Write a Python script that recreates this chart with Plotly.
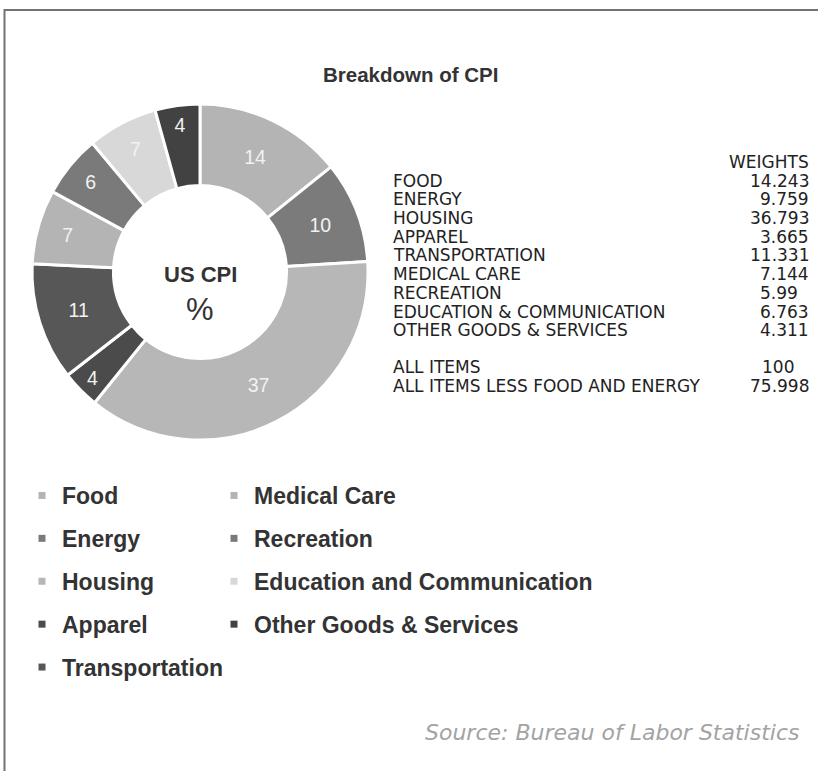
import plotly.graph_objects as go

W, H = 818, 771

# ---- data ----
categories = ["Food", "Energy", "Housing", "Apparel", "Transportation",
              "Medical Care", "Recreation", "Education and Communication",
              "Other Goods & Services"]
weights = [14.243, 9.759, 36.793, 3.665, 11.331, 7.144, 5.99, 6.763, 4.311]
colors = ["#b4b4b4", "#7b7b7b", "#b7b7b7", "#4b4b4b", "#575757",
          "#b4b4b4", "#7a7a7a", "#d8d8d8", "#424242"]

table_labels = ["FOOD", "ENERGY", "HOUSING", "APPAREL", "TRANSPORTATION",
                "MEDICAL CARE", "RECREATION", "EDUCATION & COMMUNICATION",
                "OTHER GOODS & SERVICES"]
summary_labels = ["ALL ITEMS", "ALL ITEMS LESS FOOD AND ENERGY"]
summary_values = [100, 75.998]

legend_col1 = categories[:5]
legend_col2 = categories[5:]


def px(x):
    return x / W


def py(y):
    return 1 - y / H


fig = go.Figure()

# donut
cx, cy, r = 200, 272, 168
fig.add_trace(go.Pie(
    labels=categories, values=weights, sort=False, direction="clockwise",
    rotation=0, hole=0.515,
    marker=dict(colors=colors, line=dict(color="white", width=3)),
    texttemplate="%{value:.0f}", textposition="inside",
    insidetextorientation="horizontal",
    textfont=dict(family="Liberation Sans, Arial", size=19.5, color="#f2f2f2"),
    domain=dict(x=[px(cx - r), px(cx + r)], y=[py(cy + r), py(cy - r)]),
    showlegend=False, hoverinfo="label+value",
))

# legend entries (two columns)
for name, col in zip(categories, colors):
    fig.add_trace(go.Scatter(
        x=[None], y=[None], mode="markers", name=name,
        marker=dict(symbol="square", size=7, color=col),
        legendgroup=name,
        legend="legend" if name in legend_col1 else "legend2",
    ))

legend_font = dict(family="Liberation Sans, Arial", size=23, color="#333333",
                   weight="bold")
fig.update_layout(
    legend=dict(x=px(22), y=py(474), xanchor="left", yanchor="top",
                font=legend_font, tracegroupgap=10, bgcolor="rgba(0,0,0,0)",
                itemwidth=30),
    legend2=dict(x=px(214), y=py(474), xanchor="left", yanchor="top",
                 font=legend_font, tracegroupgap=10, bgcolor="rgba(0,0,0,0)",
                 itemwidth=30),
)

annotations = []


def ann(x, y, text, font, xanchor="left"):
    annotations.append(dict(x=px(x), y=py(y), xref="paper", yref="paper",
                            text=text, showarrow=False, xanchor=xanchor,
                            yanchor="middle", font=font))


# title
ann(410, 75, "<b>Breakdown of CPI</b>",
    dict(family="Liberation Sans, Arial", size=20.5, color="#333333"), "center")
# center labels
ann(cx, 274, "<b>US CPI</b>",
    dict(family="Liberation Sans, Arial", size=22, color="#333333"), "center")
ann(cx, 309, "%",
    dict(family="Liberation Sans, Arial", size=31, color="#333333"), "center")

# weights table
tfont = dict(family="DejaVu Sans", size=17, color="#222222")
row_h = 18.7
y0 = 162
ann(811, y0, "WEIGHTS", tfont, "right")


def fmt(v):
    s = str(v)
    dec = len(s.split(".")[1]) if "." in s else 0
    return s + "\u2007" * (3 - dec)


for i, (lab, val) in enumerate(zip(table_labels, weights)):
    yy = y0 + row_h * (i + 1)
    ann(391, yy, lab, tfont)
    ann(811, yy, fmt(val), tfont, "right")
for j, (lab, val) in enumerate(zip(summary_labels, summary_values)):
    yy = 367 + row_h * j
    ann(391, yy, lab, tfont)
    if isinstance(val, int):
        ann(760, yy, str(val), tfont)
    else:
        ann(811, yy, fmt(val), tfont, "right")

# source
ann(801, 732, "<i>Source: Bureau of Labor Statistics</i>",
    dict(family="DejaVu Sans", size=22, color="#a3a3a3", weight=200), "right")

fig.update_layout(
    width=W, height=H, margin=dict(l=0, r=0, t=0, b=0),
    paper_bgcolor="white", plot_bgcolor="white",
    xaxis=dict(visible=False), yaxis=dict(visible=False),
    annotations=annotations,
    shapes=[dict(type="path", xref="paper", yref="paper",
                 path=f"M {px(4.5)} {py(775)} L {px(4.5)} {py(10)} L {px(820)} {py(10)}",
                 line=dict(color="#727272", width=2))],
)

fig.write_html("out.html", config={"displayModeBar": False},
               post_script="document.body.style.margin='0';document.body.style.overflow='hidden';")
